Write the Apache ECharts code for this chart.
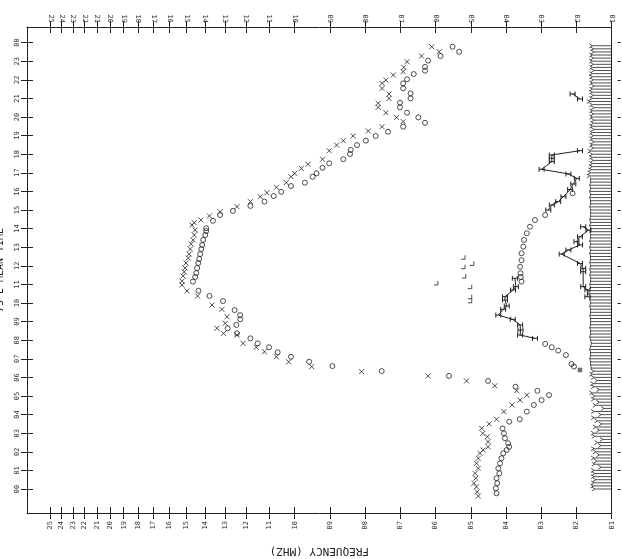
<!DOCTYPE html>
<html>
<head>
<meta charset="utf-8">
<script src="https://cdn.jsdelivr.net/npm/echarts@6.0.0/dist/echarts.min.js"></script>
<style>
  html, body { margin: 0; padding: 0; background: #fff; }
  #chart { width: 622px; height: 559px; }
</style>
</head>
<body>
<div id="chart"></div>
<script>
// ionogram f-plot, drawn rotated: time runs up, frequency runs right-to-left
const ink = '#222';
const mono = 'DejaVu Sans Mono';

const freqTicks = [1,2,3,4,5,6,7,8,9,10,11,12,13,14,15,16,17,18,19,20,21,22,23,24,25];
const hourTicks = [0,1,2,3,4,5,6,7,8,9,10,11,12,13,14,15,16,17,18,19,20,21,22,23,24];

// [hour, MHz]
const xTrace = [
  [-0.38,4.79],[-0.15,4.82],[0.12,4.84],[0.31,4.91],[0.58,4.86],[0.84,4.88],[1.11,4.79],[1.38,4.84],
  [1.65,4.79],[1.92,4.74],[2.10,4.65],[2.27,4.51],[2.54,4.51],[2.81,4.53],[2.99,4.66],[3.26,4.69],
  [3.50,4.48],[3.75,4.27],[4.16,4.06],[4.52,3.83],[4.78,3.60],[5.05,3.41],[5.28,3.70],[5.55,4.32],
  [5.81,5.12],[6.08,6.21],[6.31,8.10],[6.58,9.52],[6.84,10.23],[7.11,10.71],[7.38,11.20],[7.62,11.55],
  [7.83,12.14],[8.28,12.42],[8.37,13.06],[8.64,13.39],[8.91,12.98],[9.26,12.89],[9.66,13.14],[9.89,13.64],
  [10.38,14.40],[10.65,14.98],[10.97,15.27],[11.18,15.26],[11.45,15.20],[11.67,15.14],[11.88,15.09],
  [12.15,15.04],[12.42,14.91],[12.63,14.86],[12.90,14.80],[13.17,14.75],[13.39,14.64],[13.66,14.58],
  [13.92,14.53],[14.19,14.70],[14.32,14.58],[14.46,14.22],[14.68,13.77],[14.91,13.23],[15.18,12.42],
  [15.45,11.81],[15.72,11.38],[15.93,11.10],[16.22,10.71],[16.47,10.32],[16.79,10.14],[16.97,10.00],
  [17.24,9.81],[17.46,9.62],[17.73,9.21],[18.19,9.02],[18.49,8.81],[18.73,8.62],[18.98,8.34],
  [19.25,7.91],[19.48,7.52],[19.75,6.92],[19.98,7.11],[20.23,7.41],[20.52,7.63],[20.74,7.63],
  [21.00,7.32],[21.24,7.32],[21.54,7.52],[21.81,7.52],[21.99,7.41],[22.26,7.20],[22.44,6.92],
  [22.67,6.90],[22.97,6.81],[23.28,6.40],[23.51,5.90],[23.78,6.11]
];

const oTrace = [
  [-0.23,4.27],[0.04,4.29],[0.31,4.25],[0.58,4.27],[0.84,4.19],[1.11,4.22],[1.38,4.17],[1.65,4.13],
  [1.92,4.08],[2.10,3.98],[2.27,3.91],[2.46,3.94],[2.73,4.03],[2.99,4.06],[3.26,4.10],
  [3.62,3.91],[3.75,3.61],[4.16,3.41],[4.52,3.21],[4.78,2.99],[5.05,2.78],[5.28,3.11],[5.50,3.73],
  [5.81,4.51],[6.08,5.62],[6.34,7.53],[6.61,8.93],[6.84,9.59],[7.11,10.14],[7.35,10.66],[7.62,11.01],
  [7.83,11.49],[8.10,11.81],[8.37,12.42],[8.64,12.86],[8.82,12.45],[9.12,12.27],[9.35,12.27],
  [9.62,12.53],[10.11,13.09],[10.38,13.77],[10.66,14.35],[11.15,14.65],[11.40,14.53],[11.61,14.47],
  [11.88,14.42],[12.15,14.36],[12.37,14.31],[12.63,14.26],[12.90,14.20],[13.12,14.15],[13.39,14.10],
  [13.66,13.99],[13.87,13.94],[14.02,13.94],[14.42,13.59],[14.73,13.23],[14.95,12.61],[15.22,11.81],
  [15.45,11.20],[15.75,10.82],[15.98,10.52],[16.29,10.14],[16.47,9.71],[16.79,9.49],[16.97,9.38],
  [17.27,9.21],[17.51,9.02],[17.73,8.62],[18.01,8.43],[18.23,8.41],[18.49,8.23],[18.73,7.98],
  [18.98,7.70],[19.21,7.35],[19.48,6.92],[19.69,6.30],[19.98,6.49],[20.23,6.81],[20.52,7.01],
  [20.77,7.01],[21.00,6.71],[21.27,6.71],[21.54,6.92],[21.81,6.92],[22.03,6.81],[22.31,6.62],
  [22.49,6.30],[22.70,6.30],[23.03,6.21],[23.28,5.86],[23.51,5.33],[23.78,5.52]
];

const foE = [
  [6.58,2.07],[6.72,2.14],[7.20,2.30],[7.44,2.52],[7.62,2.70],[7.80,2.89],
  [11.15,3.56],[11.40,3.58],[11.60,3.59],[11.95,3.60],[12.30,3.56],[12.67,3.56],[13.03,3.51],
  [13.39,3.49],[13.75,3.41],[14.10,3.32],[14.46,3.18],[14.73,2.89],[15.90,2.11]
];

const esHigh = [
  [8.10,3.18],[8.28,3.60],[8.55,3.59],[8.82,3.60],[9.12,3.81],[9.35,4.22],[9.66,4.08],[9.84,3.98],
  [10.16,4.03],[10.34,4.03],[10.70,3.80],[10.88,3.72],[11.33,3.75]
];
const esLow = [
  [10.34,1.69],[10.70,1.69],[10.88,1.81],[11.68,1.81],[11.86,1.81],[12.13,1.90],[12.63,2.42],
  [12.85,2.23],[13.12,1.90],[13.30,2.00],[13.56,1.90],[13.92,1.66],[14.10,1.81]
];
const esAfternoon = [
  [15.00,2.80],[15.27,2.70],[15.45,2.52],[15.72,2.37],[16.10,2.18],[16.40,2.09],[16.70,1.99],
  [16.94,2.23],[17.19,2.99],[17.60,2.70],[17.78,2.70],[17.96,2.70],[18.19,1.90]
];
const esNight = [[20.97,1.90],[21.24,2.11]];
const esDense = [[6.40,1.90]];

const lMarks = [
  [10.12,5.03],[10.34,5.03],[10.88,5.03],[11.08,5.99],[11.45,5.20],[11.95,5.22],[12.13,4.97],[12.46,5.22]
];

// fmin every 10 minutes, one row per hour
const fminByHour = [
  [1.48,1.52,1.50,1.45,1.50,1.48],
  [1.50,1.30,1.48,1.42,1.50,1.35],
  [1.45,1.50,1.30,1.40,1.25,1.48],
  [1.50,1.35,1.45,1.28,1.40,1.50],
  [1.30,1.50,1.22,1.45,1.35,1.50],
  [1.48,1.55,1.35,1.50,1.52,1.40],
  [1.50,1.55,1.50,1.58,1.60,1.60],
  [1.62,1.60,1.60,1.62,1.60,1.58],
  [1.60,1.62,1.60,1.60,1.62,1.60],
  [1.60,1.60,1.62,1.60,1.60,1.62],
  [1.60,1.62,1.60,1.65,1.68,1.60],
  [1.62,1.60,1.60,1.62,1.60,1.62],
  [1.60,1.62,1.60,1.60,1.62,1.60],
  [1.62,1.60,1.62,1.60,1.60,1.62],
  [1.60,1.62,1.60,1.62,1.60,1.60],
  [1.60,1.62,1.60,1.60,1.62,1.60],
  [1.62,1.60,1.62,1.60,1.60,1.62],
  [1.60,1.58,1.55,1.55,1.52,1.55],
  [1.55,1.60,1.52,1.55,1.50,1.55],
  [1.52,1.55,1.50,1.55,1.52,1.50],
  [1.55,1.52,1.55,1.50,1.55,1.62],
  [1.55,1.52,1.55,1.55,1.50,1.55],
  [1.52,1.55,1.55,1.50,1.55,1.52],
  [1.55,1.52,1.55,1.50,1.52,1.55]
];

// frequency scale: linear 1-10 MHz, logarithmic above 10
const LOG_K = 17.415;
function fpos(f) { return f <= 10 ? f - 1 : 9 + Math.log10(f / 10) * LOG_K; }
function finv(p) { return p <= 9 ? p + 1 : 10 * Math.pow(10, (p - 9) / LOG_K); }
const pad2 = n => (n < 10 ? '0' : '') + n;
const XMAX = 16.6;
const tickPos = freqTicks.map(fpos);

const toXY = arr => arr.map(d => [fpos(d[1]), d[0]]);

const fminData = [];
fminByHour.forEach((row, h) => row.forEach((f, k) => fminData.push([fpos(f), h + k / 6])));

const chart = echarts.init(document.getElementById('chart'), null, { renderer: 'canvas' });

const xBase = {
  type: 'value', min: 0, max: XMAX, inverse: true,
  splitLine: { show: false },
  axisLine: { onZero: false, lineStyle: { color: ink, width: 1 } }
};
const yBase = {
  type: 'value', min: -1.29, max: 24.84,
  splitLine: { show: false },
  axisLine: { onZero: false, lineStyle: { color: ink, width: 1 } }
};
const freqLabel = {
  customValues: tickPos, rotate: 90, fontSize: 7, fontFamily: mono, color: '#333',
  formatter: v => pad2(Math.round(finv(v)))
};

const crossSym = 'path://M0 0L10 10M10 0L0 10';
const hSym = 'path://M0 0L0 10M10 0L10 10M0 5L10 5';
const hashSym = 'path://M3 0L3 10M7 0L7 10M0 3L10 3M0 7L10 7';
const cornerSym = 'path://M10 0L10 10L0 10';
const stroke = { color: 'none', borderColor: ink, borderWidth: 1 };

function esLine(data) {
  return {
    type: 'line', data: toXY(data), symbol: hSym, symbolSize: [5, 5], showSymbol: true,
    lineStyle: { color: ink, width: 1 }, itemStyle: stroke, z: 4
  };
}

chart.setOption({
  animation: false,
  backgroundColor: '#fff',
  grid: { left: 27, right: 10.3, top: 27, bottom: 46, outerBoundsMode: 'none', containLabel: false },
  xAxis: [
    Object.assign({}, xBase, {
      position: 'bottom',
      axisTick: { customValues: tickPos, length: 6, lineStyle: { color: ink } },
      axisLabel: Object.assign({ margin: 8 }, freqLabel),
      name: 'FREQUENCY (MHZ)', nameLocation: 'middle', nameGap: 32, nameRotate: 180,
      nameTextStyle: { fontFamily: mono, fontSize: 11, color: ink }
    }),
    Object.assign({}, xBase, {
      position: 'bottom', axisLine: { show: false, onZero: false },
      axisTick: { customValues: tickPos, length: 6, inside: true, lineStyle: { color: ink } },
      axisLabel: { show: false }
    }),
    Object.assign({}, xBase, {
      position: 'top',
      axisTick: { customValues: tickPos, length: 6, lineStyle: { color: ink } },
      axisLabel: Object.assign({ margin: 4 }, freqLabel)
    }),
    Object.assign({}, xBase, {
      position: 'top', axisLine: { show: false, onZero: false },
      axisTick: { customValues: tickPos, length: 6, inside: true, lineStyle: { color: ink } },
      axisLabel: { show: false }
    })
  ],
  yAxis: [
    Object.assign({}, yBase, {
      position: 'left',
      axisTick: { customValues: hourTicks, length: 6, lineStyle: { color: ink } },
      axisLabel: {
        customValues: hourTicks, rotate: 90, margin: 6, fontSize: 7, fontFamily: mono, color: '#333',
        formatter: v => pad2(Math.round(v) % 24)
      },
      name: '75\u00b0E MEAN TIME', nameLocation: 'middle', nameGap: 22, nameRotate: 90,
      nameTextStyle: { fontFamily: mono, fontSize: 10, color: ink }
    }),
    Object.assign({}, yBase, {
      position: 'left', axisLine: { show: false, onZero: false },
      axisTick: { customValues: hourTicks, length: 6, inside: true, lineStyle: { color: ink } },
      axisLabel: { show: false }
    }),
    Object.assign({}, yBase, {
      position: 'right', axisTick: { show: false }, axisLabel: { show: false }
    }),
    Object.assign({}, yBase, {
      position: 'right', offset: 6, axisLine: { show: false, onZero: false },
      axisTick: { customValues: hourTicks, length: 3, lineStyle: { color: ink } },
      axisLabel: { show: false }
    })
  ],
  series: [
    {
      type: 'custom', data: fminData, clip: false, z: 2,
      renderItem: function (params, api) {
        const p = api.value(0), t = api.value(1);
        const a = api.coord([0, t]);
        const b = api.coord([p, t]);
        const st = { stroke: ink, lineWidth: 0.8, fill: 'none' };
        const kids = [{ type: 'line', shape: { x1: a[0], y1: a[1], x2: b[0], y2: b[1] }, style: st }];
        if (t > 6.4 && t < 16.8) {
          kids.push({ type: 'line', shape: { x1: b[0], y1: b[1] - 1.5, x2: b[0], y2: b[1] + 1.5 }, style: st });
        } else {
          kids.push({ type: 'polyline', shape: { points: [[b[0] - 3, b[1] - 2], [b[0], b[1]], [b[0] - 3, b[1] + 2]] }, style: st });
        }
        return { type: 'group', children: kids };
      }
    },
    { type: 'scatter', data: toXY(xTrace), symbol: crossSym, symbolSize: 5, itemStyle: stroke, z: 3 },
    { type: 'scatter', data: toXY(oTrace), symbol: 'circle', symbolSize: 5, itemStyle: stroke, z: 3 },
    { type: 'scatter', data: toXY(foE), symbol: 'circle', symbolSize: 5, itemStyle: stroke, z: 3 },
    esLine(esHigh),
    esLine(esLow),
    esLine(esAfternoon),
    esLine(esNight),
    { type: 'scatter', data: toXY(esDense), symbol: hashSym, symbolSize: 5, itemStyle: stroke, z: 4 },
    { type: 'scatter', data: toXY(lMarks), symbol: cornerSym, symbolSize: 4, itemStyle: stroke, z: 3 }
  ]
});
</script>
</body>
</html>
